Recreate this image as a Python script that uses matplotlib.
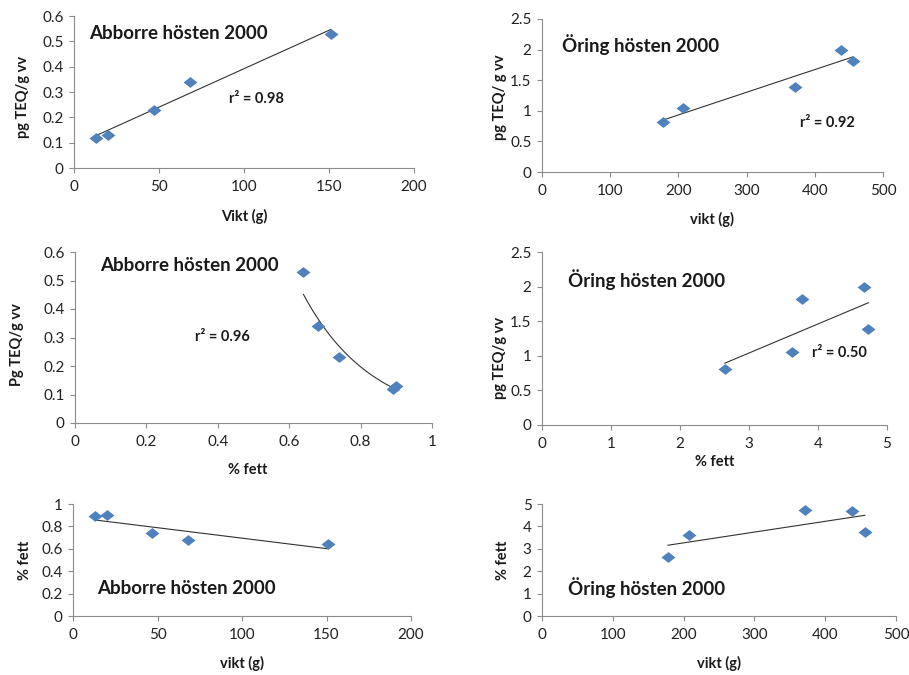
import numpy as np
import matplotlib
matplotlib.use("Agg")
import matplotlib.pyplot as plt

plt.rcParams['font.family'] = ['Lato', 'DejaVu Sans']

# Abborre (perch), autumn 2000
abborre_vikt = [13, 20, 47, 68, 151]
abborre_teq = [0.12, 0.13, 0.23, 0.34, 0.53]
abborre_fett = [0.89, 0.90, 0.74, 0.68, 0.64]

# Öring (trout), autumn 2000
oring_vikt = [178, 207, 371, 438, 456]
oring_teq = [0.81, 1.05, 1.39, 2.00, 1.82]
oring_fett = [2.65, 3.63, 4.73, 4.67, 3.77]

r2_labels = ["r² = 0.98", "r² = 0.92", "r² = 0.96", "r² = 0.50"]

BLUE = '#4F81BD'
AXIS = '#8C8C8C'
TEXT = '#1a1a1a'

# slightly flattened diamond marker
DIAMOND = [(-1, 0), (0, 0.78), (1, 0), (0, -0.78), (-1, 0)]

fig = plt.figure(figsize=(9.09, 6.75), dpi=100)
W, H = 909, 675


def add_ax(left, top, right, bottom):
    return fig.add_axes([left / W, 1 - bottom / H, (right - left) / W, (bottom - top) / H])


def g(v):
    return f"{v:g}"


def style(ax, xlim, xticks, ylim, yticks):
    ax.set_xlim(*xlim)
    ax.set_ylim(*ylim)
    ax.set_xticks(xticks)
    ax.set_yticks(yticks)
    ax.set_xticklabels([g(v) for v in xticks])
    ax.set_yticklabels([g(v) for v in yticks])
    for s in ['top', 'right']:
        ax.spines[s].set_visible(False)
    for s in ['left', 'bottom']:
        ax.spines[s].set_color(AXIS)
        ax.spines[s].set_linewidth(0.8)
    ax.tick_params(colors=AXIS, labelcolor='#222222', labelsize=11,
                   length=3.5, width=0.8, direction='out')
    ax.tick_params(axis='x', pad=5)
    ax.tick_params(axis='y', pad=4)


def linear(ax, x, y):
    p = np.polyfit(x, y, 1)
    xs = np.array([min(x), max(x)])
    ax.plot(xs, np.polyval(p, xs), color='#333333', lw=0.8, zorder=2)


def scatter(ax, x, y):
    ax.plot(x, y, linestyle='none', marker=DIAMOND, color=BLUE, ms=10,
            mec=BLUE, mew=0, zorder=3, clip_on=False)


def title(ax, x, y, s):
    ax.text(x, y, s, fontsize=13.5, fontweight='bold', ha='left', va='center', color=TEXT)


def r2(ax, x, y, s):
    ax.text(x, y, s, fontsize=10.5, fontweight='bold', ha='left', va='center', color=TEXT)


def labels(ax, xl, yl, xpos, ypos):
    ax.set_xlabel(xl, fontsize=10.5, fontweight='bold', color=TEXT)
    ax.xaxis.label.set_verticalalignment('center')
    ax.xaxis.set_label_coords(*xpos)
    ax.set_ylabel(yl, fontsize=10.5, fontweight='bold', color=TEXT)
    ax.yaxis.label.set_verticalalignment('center')
    ax.yaxis.set_label_coords(*ypos)


# Panel 1: Abborre TEQ vs weight
ax1 = add_ax(74, 16, 414, 168)
style(ax1, (0, 200), [0, 50, 100, 150, 200], (0, 0.6), [0, 0.1, 0.2, 0.3, 0.4, 0.5, 0.6])
linear(ax1, abborre_vikt, abborre_teq)
scatter(ax1, abborre_vikt, abborre_teq)
title(ax1, 9, 0.53, "Abborre hösten 2000")
r2(ax1, 91, 0.272, r2_labels[0])
labels(ax1, "Vikt (g)", "pg TEQ/g vv", (0.5, -0.32), (-0.15, 0.47))

# Panel 2: Öring TEQ vs weight
ax2 = add_ax(542, 19, 883, 172)
style(ax2, (0, 500), [0, 100, 200, 300, 400, 500], (0, 2.5), [0, 0.5, 1, 1.5, 2, 2.5])
linear(ax2, oring_vikt, oring_teq)
scatter(ax2, oring_vikt, oring_teq)
title(ax2, 29, 2.09, "Öring hösten 2000")
r2(ax2, 378, 0.80, r2_labels[1])
labels(ax2, "vikt (g)", "pg TEQ/ g vv", (0.5, -0.31), (-0.123, 0.49))

# Panel 3: Abborre TEQ vs fat, exponential trend
ax3 = add_ax(75, 252, 432, 423)
style(ax3, (0, 1), [0, 0.2, 0.4, 0.6, 0.8, 1], (0, 0.6), [0, 0.1, 0.2, 0.3, 0.4, 0.5, 0.6])
b, ln_a = np.polyfit(abborre_fett, np.log(abborre_teq), 1)
xs = np.linspace(min(abborre_fett), max(abborre_fett), 100)
ax3.plot(xs, np.exp(ln_a + b * xs), color='#333333', lw=0.8, zorder=2)
scatter(ax3, abborre_fett, abborre_teq)
title(ax3, 0.07, 0.554, "Abborre hösten 2000")
r2(ax3, 0.336, 0.302, r2_labels[2])
labels(ax3, "% fett", "Pg TEQ/g vv", (0.485, -0.275), (-0.162, 0.46))

# Panel 4: Öring TEQ vs fat
ax4 = add_ax(542, 252, 887, 425)
style(ax4, (0, 5), [0, 1, 2, 3, 4, 5], (0, 2.5), [0, 0.5, 1, 1.5, 2, 2.5])
linear(ax4, oring_fett, oring_teq)
scatter(ax4, oring_fett, oring_teq)
title(ax4, 0.377, 2.095, "Öring hösten 2000")
r2(ax4, 3.91, 1.04, r2_labels[3])
labels(ax4, "% fett", "pg TEQ/g vv", (0.5, -0.214), (-0.122, 0.39))

# Panel 5: Abborre fat vs weight
ax5 = add_ax(73, 504, 411, 616)
style(ax5, (0, 200), [0, 50, 100, 150, 200], (0, 1), [0, 0.2, 0.4, 0.6, 0.8, 1])
linear(ax5, abborre_vikt, abborre_fett)
scatter(ax5, abborre_vikt, abborre_fett)
title(ax5, 14.2, 0.25, "Abborre hösten 2000")
labels(ax5, "vikt (g)", "% fett", (0.5, -0.42), (-0.142, 0.5))

# Panel 6: Öring fat vs weight
ax6 = add_ax(542, 504, 896, 616)
style(ax6, (0, 500), [0, 100, 200, 300, 400, 500], (0, 5), [0, 1, 2, 3, 4, 5])
linear(ax6, oring_vikt, oring_fett)
scatter(ax6, oring_vikt, oring_fett)
title(ax6, 36.7, 1.25, "Öring hösten 2000")
labels(ax6, "vikt (g)", "% fett", (0.5, -0.42), (-0.11, 0.5))

fig.savefig("out.png", dpi=100)
